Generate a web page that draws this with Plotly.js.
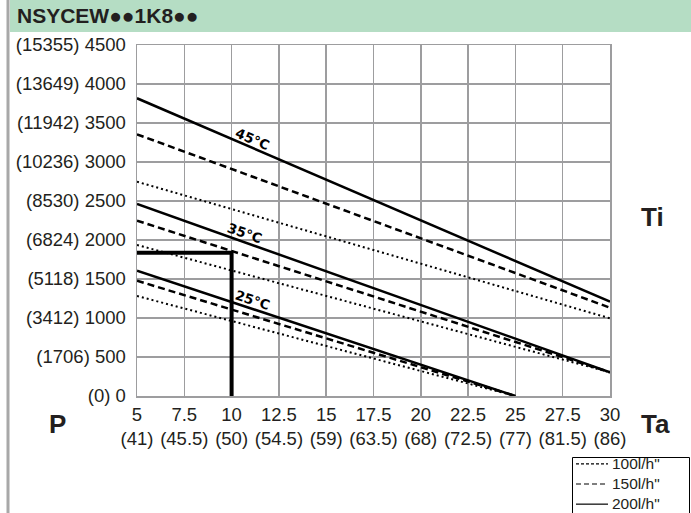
<!DOCTYPE html>
<html>
<head>
<meta charset="utf-8">
<script src="https://cdn.plot.ly/plotly-3.0.1.min.js"></script>
<style>html,body{margin:0;padding:0;background:#fff;}#chart{width:691px;height:513px;}</style>
</head>
<body>
<div id="chart"></div>
<script>
// ---- data ----
const taRange = [5, 30];          // ambient temperature (°C) for 45°C / 35°C curves
const taRange25 = [5, 25];        // ambient temperature (°C) for 25°C curves
const t45_100 = [2747, 996];
const t45_150 = [3355, 1132];
const t45_200 = [3817, 1209];
const t35_100 = [1936, 304];
const t35_150 = [2248, 304];
const t35_200 = [2462, 304];
const t25_100 = [1282, 0];
const t25_150 = [1478, 0];
const t25_200 = [1607, 0];
const refX = [5, 10, 10];
const refY = [1838, 1838, 0];

const xTickVals = [5, 7.5, 10, 12.5, 15, 17.5, 20, 22.5, 25, 27.5, 30];
const xTickC = ["5", "7.5", "10", "12.5", "15", "17.5", "20", "22.5", "25", "27.5", "30"];
const xTickF = ["(41)", "(45.5)", "(50)", "(54.5)", "(59)", "(63.5)", "(68)", "(72.5)", "(77)", "(81.5)", "(86)"];
const yTickVals = [0, 500, 1000, 1500, 2000, 2500, 3000, 3500, 4000, 4500];
const yTickText = ["(0) 0", "(1706) 500", "(3412) 1000", "(5118) 1500", "(6824) 2000",
  "(8530) 2500", "(10236) 3000", "(11942) 3500", "(13649) 4000", "(15355) 4500"];
const flowNames = ['100l/h"', '150l/h"', '200l/h"'];
const tempLabels = ["45°C", "35°C", "25°C"];

// ---- styles ----
const txt = '#231f20';
const grid = '#9d9d9f';
const styles = [
  {width: 2, dash: '2px,3px'},
  {width: 2.5, dash: '7px,4px'},
  {width: 2.5, dash: 'solid'}
];
const groups = [
  {x: taRange, ys: [t45_100, t45_150, t45_200]},
  {x: taRange, ys: [t35_100, t35_150, t35_200]},
  {x: taRange25, ys: [t25_100, t25_150, t25_200]}
];

const traces = [];
groups.forEach((g, gi) => {
  g.ys.forEach((y, fi) => {
    traces.push({
      x: g.x, y: y, type: 'scatter', mode: 'lines',
      name: flowNames[fi], showlegend: false,
      line: {color: '#000', width: styles[fi].width, dash: styles[fi].dash},
      hoverinfo: 'skip'
    });
  });
});
traces.push({
  x: refX, y: refY, type: 'scatter', mode: 'lines', showlegend: false,
  line: {color: '#000', width: 4}, hoverinfo: 'skip'
});

// px -> paper helpers (plot area: x 137..610, y 45..396)
const px = p => (p - 137) / 473;
const py = q => (396 - q) / 351;

// label annotations along the 200 l/h lines
const labelX = [11.13, 10.71, 11.13];
const angles = [23.2, 19.6, 18.3];
const annotations = [];
groups.forEach((g, gi) => {
  const y = g.ys[2];
  const xv = labelX[gi];
  const yv = y[0] + (y[1] - y[0]) * (xv - g.x[0]) / (g.x[1] - g.x[0]);
  annotations.push({
    x: xv, y: yv, xref: 'x', yref: 'y', text: '<b>' + tempLabels[gi] + '</b>', showarrow: false,
    textangle: angles[gi], yshift: 9.5, xanchor: 'center', yanchor: 'middle',
    font: {family: 'DejaVu Sans, Arial', size: 13.5, color: '#000'}
  });
});
const bigFont = {family: 'Liberation Sans, Arial', size: 26, color: txt};
annotations.push({x: px(57), y: py(424), xref: 'paper', yref: 'paper', text: '<b>P</b>', showarrow: false, xanchor: 'center', yanchor: 'middle', font: bigFont});
annotations.push({x: px(655), y: py(424), xref: 'paper', yref: 'paper', text: '<b>Ta</b>', showarrow: false, xanchor: 'center', yanchor: 'middle', font: bigFont});
annotations.push({x: px(652), y: py(217), xref: 'paper', yref: 'paper', text: '<b>Ti</b>', showarrow: false, xanchor: 'center', yanchor: 'middle', font: bigFont});
// chart title in green band
annotations.push({x: px(15), y: py(16), xref: 'paper', yref: 'paper', text: '<b>NSYCEW●●1K8●●</b>', showarrow: false,
  xanchor: 'left', yanchor: 'middle', font: {family: 'Liberation Sans, Arial', size: 21, color: txt}});

// custom legend: one multi-line text block plus line samples
const legFont = 15.5;
const legSpacing = legFont * 1.3;
const legCenter = 483;
const legRowsY = flowNames.map((n, i) => legCenter + (i - 1) * legSpacing);
const shapes = [
  {type: 'rect', xref: 'paper', yref: 'paper', x0: px(10), x1: px(700), y0: py(32), y1: py(0),
   fillcolor: 'rgb(181,221,196)', line: {width: 0}, layer: 'below'},
  {type: 'line', xref: 'paper', yref: 'paper', x0: px(8), x1: px(8), y0: py(520), y1: py(0),
   line: {color: '#a8a8a8', width: 3}},
  {type: 'rect', xref: 'paper', yref: 'paper', x0: px(572.5), x1: px(689.5), y0: py(520), y1: py(457.5),
   fillcolor: '#fff', line: {color: '#000', width: 1}}
];
const legDash = ['3px,2px', '5px,3px', 'solid'];
flowNames.forEach((n, i) => {
  shapes.push({type: 'line', xref: 'paper', yref: 'paper', x0: px(576), x1: px(608),
    y0: py(legRowsY[i] + 1), y1: py(legRowsY[i] + 1), line: {color: '#000', width: 1.2, dash: legDash[i]}});
});
annotations.push({x: px(611), y: py(legCenter), xref: 'paper', yref: 'paper', text: flowNames.join('<br>'),
  showarrow: false, align: 'left', xanchor: 'left', yanchor: 'middle', borderpad: 0,
  font: {family: 'Liberation Sans, Arial', size: legFont, color: txt}});

const tickFont = {family: 'Liberation Sans, Arial', size: 18.5, color: txt};
const xTickText = xTickC.map((c, i) => c + '<br>' + xTickF[i]);

const layout = {
  width: 691, height: 513,
  paper_bgcolor: '#fff', plot_bgcolor: '#fff',
  margin: {l: 137, r: 81, t: 45, b: 117, autoexpand: false},
  xaxis: {
    range: [5, 30], tickvals: xTickVals, ticktext: xTickText, tickfont: tickFont,
    showgrid: true, gridcolor: grid, gridwidth: 1.5, zeroline: false,
    showline: true, linecolor: grid, linewidth: 1.5, mirror: true,
    ticks: '', ticklabelstandoff: 1, tickangle: 0
  },
  yaxis: {
    range: [0, 4500], tickvals: yTickVals, ticktext: yTickText, tickfont: tickFont,
    showgrid: true, gridcolor: grid, gridwidth: 1.5, zeroline: false,
    showline: true, linecolor: grid, linewidth: 1.5, mirror: true,
    ticks: '', ticklabelstandoff: 6
  },
  showlegend: false,
  shapes: shapes,
  annotations: annotations
};

Plotly.newPlot('chart', traces, layout, {displayModeBar: false, staticPlot: true});
</script>
</body>
</html>
